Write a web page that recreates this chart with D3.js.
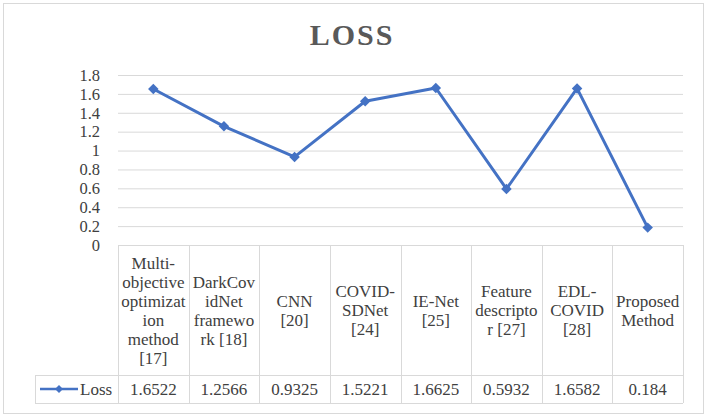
<!DOCTYPE html>
<html>
<head>
<meta charset="utf-8">
<script src="https://cdn.jsdelivr.net/npm/d3@7"></script>
<style>
  body { margin: 0; background: #fff; }
</style>
</head>
<body>
<div id="container"></div>
<script>
/* DATA */
const categories = [
  ["Multi-", "objective", "optimizat", "ion", "method", "[17]"],
  ["DarkCov", "idNet", "framewo", "rk [18]"],
  ["CNN", "[20]"],
  ["COVID-", "SDNet", "[24]"],
  ["IE-Net", "[25]"],
  ["Feature", "descripto", "r [27]"],
  ["EDL-", "COVID", "[28]"],
  ["Proposed", "Method"]
];
const lossValues = [1.6522, 1.2566, 0.9325, 1.5221, 1.6625, 0.5932, 1.6582, 0.184];
const lossLabels = ["1.6522", "1.2566", "0.9325", "1.5221", "1.6625", "0.5932", "1.6582", "0.184"];
const tickValues = [0, 0.2, 0.4, 0.6, 0.8, 1, 1.2, 1.4, 1.6, 1.8];
const seriesName = "Loss";

/* CONSTANTS */
const width = 708, height = 417;
const plot = { left: 118, right: 683, top: 75, bottom: 245 };
const table = { left: 35, catBottom: 375, valBottom: 403 };
const gridColor = "#d9d9d9";
const lineColor = "#4472c4";
const serif = "'Liberation Serif'";
const textColor = "#404040";
const fontSize = "17px";

const svg = d3.select("#container").append("svg")
  .attr("width", width)
  .attr("height", height);

/* outer chart border */
svg.append("rect")
  .attr("x", 3.5).attr("y", 3.5)
  .attr("width", 700).attr("height", 410)
  .attr("fill", "#fff")
  .attr("stroke", gridColor);

/* title */
svg.append("text")
  .attr("x", 352)
  .attr("y", 45)
  .attr("text-anchor", "middle")
  .style("font-family", serif)
  .style("font-size", "30px")
  .style("font-weight", "bold")
  .style("letter-spacing", "2px")
  .style("fill", "#595959")
  .text("LOSS");

/* SCALES */
const xScale = d3.scaleBand()
  .domain(d3.range(categories.length))
  .range([plot.left, plot.right]);

const yScale = d3.scaleLinear()
  .domain([0, 1.8])
  .range([plot.bottom, plot.top]);

/* gridlines */
svg.append("g")
  .attr("transform", `translate(${plot.left},0)`)
  .call(d3.axisLeft(yScale).tickValues(tickValues).tickSize(-(plot.right - plot.left)).tickFormat(""))
  .call(g => g.select(".domain").remove())
  .call(g => g.selectAll("line").attr("stroke", gridColor));

/* y labels */
svg.append("g")
  .attr("transform", `translate(100,0)`)
  .call(d3.axisLeft(yScale).tickValues(tickValues).tickSize(0).tickPadding(0).tickFormat(d => String(d)))
  .call(g => g.select(".domain").remove())
  .call(g => g.selectAll("text")
    .style("font-size", "16.5px")
    .style("font-family", serif)
    .attr("fill", textColor));

/* DATA TABLE */
const tg = svg.append("g");
// horizontal lines
[[plot.left, plot.bottom], [table.left, table.catBottom], [table.left, table.valBottom]].forEach(([x0, y]) => {
  tg.append("line")
    .attr("x1", x0).attr("x2", plot.right)
    .attr("y1", y + 0.5).attr("y2", y + 0.5)
    .attr("stroke", gridColor);
});
// vertical lines
const bounds = xScale.domain().map(i => xScale(i)).concat([plot.right]);
bounds.forEach(x => {
  tg.append("line")
    .attr("x1", Math.round(x) + 0.5).attr("x2", Math.round(x) + 0.5)
    .attr("y1", plot.bottom).attr("y2", table.valBottom)
    .attr("stroke", gridColor);
});
tg.append("line")
  .attr("x1", table.left + 0.5).attr("x2", table.left + 0.5)
  .attr("y1", table.catBottom).attr("y2", table.valBottom)
  .attr("stroke", gridColor);

// category labels
const lineH = 19;
const catMid = (plot.bottom + table.catBottom) / 2;
tg.selectAll(".cat")
  .data(categories)
  .join("text")
  .attr("class", "cat")
  .attr("text-anchor", "middle")
  .style("font-family", serif)
  .style("font-size", fontSize)
  .style("fill", textColor)
  .each(function (lines, i) {
    const cx = xScale(i) + xScale.bandwidth() / 2;
    const y0 = catMid - (lines.length - 1) * lineH / 2 + 6;
    d3.select(this).selectAll("tspan")
      .data(lines)
      .join("tspan")
      .attr("x", cx)
      .attr("y", (d, j) => y0 + j * lineH)
      .text(d => d);
  });

// values row
const valMid = (table.catBottom + table.valBottom) / 2;
tg.selectAll(".val")
  .data(lossLabels)
  .join("text")
  .attr("class", "val")
  .attr("x", (d, i) => xScale(i) + xScale.bandwidth() / 2)
  .attr("y", valMid + 6)
  .attr("text-anchor", "middle")
  .style("font-family", serif)
  .style("font-size", fontSize)
  .style("fill", textColor)
  .text(d => d);

// legend key in table
const diamond = d3.symbol().type(d3.symbolDiamond2).size(70);
tg.append("line")
  .attr("x1", 40).attr("x2", 78)
  .attr("y1", valMid).attr("y2", valMid)
  .attr("stroke", lineColor).attr("stroke-width", 2.5);
tg.append("path")
  .attr("d", d3.symbol().type(d3.symbolDiamond2).size(40)())
  .attr("transform", `translate(59,${valMid})`)
  .attr("fill", lineColor);
tg.append("text")
  .attr("x", 80)
  .attr("y", valMid + 6)
  .style("font-family", serif)
  .style("font-size", fontSize)
  .style("fill", textColor)
  .text(seriesName);

/* LINE */
const line = d3.line()
  .x((d, i) => xScale(i) + xScale.bandwidth() / 2)
  .y(d => yScale(d));

svg.append("path")
  .datum(lossValues)
  .attr("d", line)
  .attr("fill", "none")
  .attr("stroke", lineColor)
  .attr("stroke-width", 3)
  .attr("stroke-linejoin", "round");

svg.selectAll(".pt")
  .data(lossValues)
  .join("path")
  .attr("class", "pt")
  .attr("d", diamond())
  .attr("transform", (d, i) => `translate(${xScale(i) + xScale.bandwidth() / 2},${yScale(d)})`)
  .attr("fill", lineColor);
</script>
</body>
</html>
